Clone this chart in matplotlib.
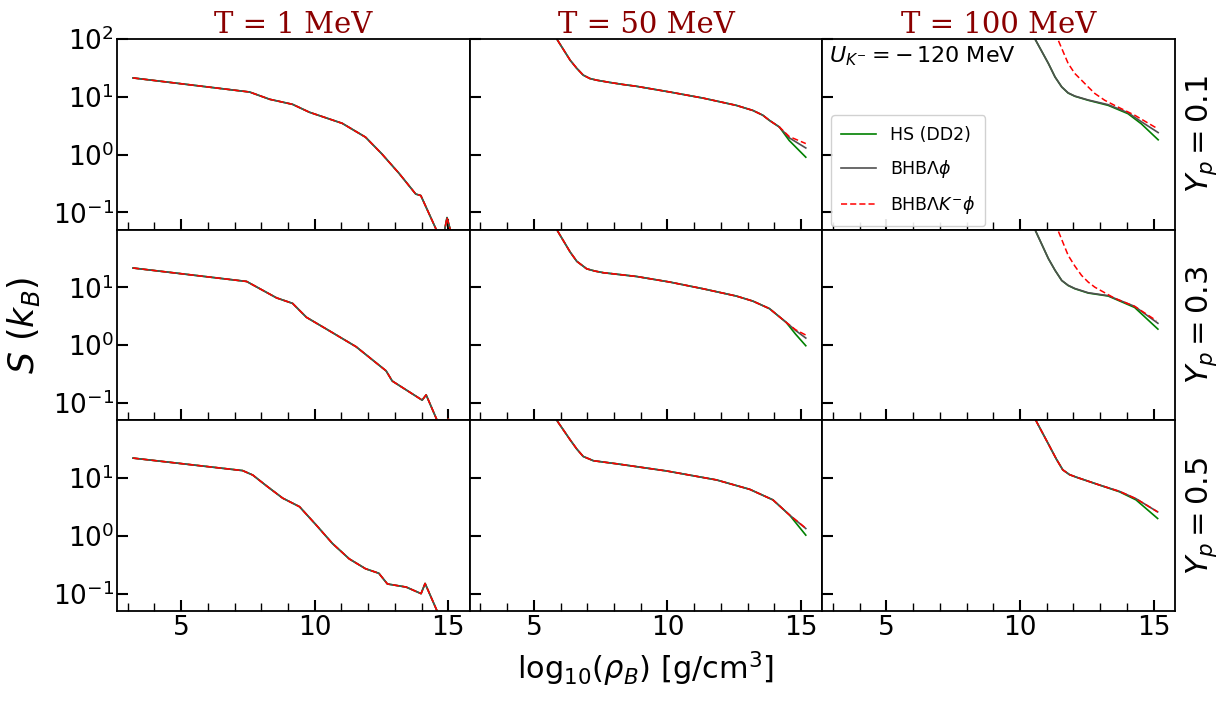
import numpy as np
import matplotlib.pyplot as plt
from matplotlib.ticker import MultipleLocator, NullLocator

# panel labels
temps = ['T = 1 MeV', 'T = 50 MeV', 'T = 100 MeV']
yps = ['0.1', '0.3', '0.5']
labels = ['HS (DD2)', r'BHB$\Lambda\phi$', r'BHB$\Lambda K^{-}\phi$']

# T = 1 MeV : the three models lie on top of each other
x_t1_01 = [3.2, 7.56, 8.31, 9.17, 9.8, 11.03, 11.9, 12.5, 13.16, 13.78, 13.97, 14.55, 14.8, 14.95, 15.1, 15.3]
s_t1_01 = [21.2, 12.1, 9.06, 7.4, 5.4, 3.47, 2.0, 1.04, 0.47, 0.207, 0.195, 0.05, 0.035, 0.081, 0.045, 0.02]
x_t1_03 = [3.2, 7.45, 8.57, 9.17, 9.69, 10.44, 11.55, 12.67, 12.9, 14.02, 14.17, 14.58, 14.85, 15.0, 15.15]
s_t1_03 = [21.7, 12.7, 6.6, 5.3, 3.04, 1.9, 0.94, 0.36, 0.24, 0.112, 0.138, 0.05, 0.035, 0.053, 0.03]
x_t1_05 = [3.2, 7.3, 7.68, 8.2, 8.8, 9.43, 10.06, 10.66, 11.29, 11.9, 12.4, 12.72, 13.42, 13.98, 14.13, 14.58, 15.0]
s_t1_05 = [22.2, 13.5, 11.3, 7.3, 4.5, 3.2, 1.53, 0.74, 0.40, 0.27, 0.225, 0.147, 0.13, 0.10, 0.15, 0.05, 0.02]

# T = 50 MeV
x_t50_01 = [5.7, 5.86, 6.36, 6.61, 6.85, 7.1, 7.35, 7.85, 8.35, 8.84, 10.09, 11.33, 12.58, 13.2, 13.57, 13.82, 14.19, 14.56, 15.18]
s_t50_01_hs = [130, 100, 43, 31, 23.7, 20.7, 19.4, 17.7, 16.3, 15.2, 12.1, 9.5, 7.1, 5.8, 4.8, 3.9, 3.0, 1.75, 0.9]
s_t50_01_bhb = [130, 100, 43, 31, 23.7, 20.7, 19.4, 17.7, 16.3, 15.2, 12.1, 9.5, 7.1, 5.8, 4.8, 3.9, 3.0, 1.95, 1.3]
s_t50_01_k = [130, 100, 43, 31, 23.7, 20.7, 19.4, 17.7, 16.3, 15.2, 12.1, 9.5, 7.1, 5.8, 4.8, 3.9, 3.0, 2.05, 1.55]
x_t50_03 = [5.7, 5.86, 6.36, 6.61, 6.98, 7.29, 7.6, 8.84, 10.09, 11.33, 12.58, 13.2, 13.82, 14.44, 14.8, 15.18]
s_t50_03_hs = [130, 100, 41, 28.3, 21, 19.2, 18, 15.5, 12.4, 9.5, 7.1, 5.8, 4.3, 2.5, 1.55, 0.98]
s_t50_03_bhb = [130, 100, 41, 28.3, 21, 19.2, 18, 15.5, 12.4, 9.5, 7.1, 5.8, 4.3, 2.5, 1.8, 1.33]
s_t50_03_k = [130, 100, 41, 28.3, 21, 19.2, 18, 15.5, 12.4, 9.5, 7.1, 5.8, 4.3, 2.5, 1.85, 1.5]
x_t50_05 = [5.7, 5.86, 6.36, 6.61, 6.85, 7.23, 8.1, 9.97, 11.84, 13.08, 13.95, 14.57, 15.18]
s_t50_05_hs = [130, 100, 46, 31.8, 23.7, 20, 17.7, 13.3, 9.3, 6.4, 4.2, 2.3, 1.03]
s_t50_05_bhb = [130, 100, 46, 31.8, 23.7, 20, 17.7, 13.3, 9.3, 6.4, 4.2, 2.3, 1.34]
s_t50_05_k = [130, 100, 46, 31.8, 23.7, 20, 17.7, 13.3, 9.3, 6.4, 4.2, 2.3, 1.36]

# T = 100 MeV
x_t100_01 = [10.4, 10.56, 11.06, 11.31, 11.56, 11.8, 12.05, 12.55, 13.3, 14.04, 14.54, 15.17]
s_t100_01_hs = [140, 100, 37.8, 22, 14.8, 11.6, 10.2, 8.7, 7.1, 5.1, 3.4, 1.8]
s_t100_01_bhb = [140, 100, 37.8, 22, 14.8, 11.7, 10.3, 8.8, 7.3, 5.3, 3.7, 2.4]
xk_t100_01 = [11.3, 11.41, 11.8, 12.05, 12.3, 12.55, 12.8, 13.17, 13.54, 14.29, 15.04, 15.17]
s_t100_01_k = [130, 100, 37.8, 25.3, 19.4, 14.8, 11.4, 8.7, 7.1, 4.8, 3.0, 2.85]
x_t100_03 = [10.4, 10.56, 11.06, 11.31, 11.56, 11.8, 12.05, 12.55, 13.3, 14.29, 15.16]
s_t100_03_hs = [140, 100, 31.6, 19.8, 13.2, 10.8, 9.5, 8.0, 7.1, 4.5, 1.9]
s_t100_03_bhb = [140, 100, 31.6, 19.8, 13.2, 10.9, 9.6, 8.1, 7.2, 4.7, 2.4]
xk_t100_03 = [11.3, 11.41, 11.8, 12.05, 12.3, 12.55, 12.8, 13.54, 14.29, 15.1]
s_t100_03_k = [130, 100, 36, 23.5, 16.2, 12.4, 10.1, 6.5, 4.7, 2.67]
x_t100_05 = [10.45, 10.59, 11.11, 11.36, 11.6, 11.85, 12.1, 12.97, 13.72, 14.34, 15.15]
s_t100_05_hs = [140, 100, 35.3, 21.3, 13.9, 11.5, 10.4, 7.6, 5.8, 4.2, 2.0]
s_t100_05_bhb = [140, 100, 35.3, 21.3, 13.9, 11.5, 10.4, 7.6, 5.9, 4.4, 2.6]
s_t100_05_k = [140, 100, 35.3, 21.3, 13.9, 11.5, 10.4, 7.6, 5.9, 4.4, 2.6]

# (x_hs, s_hs, x_bhb, s_bhb, x_k, s_k) per panel [row][col]
panels = [
    [(x_t1_01, s_t1_01, x_t1_01, s_t1_01, x_t1_01, s_t1_01),
     (x_t50_01, s_t50_01_hs, x_t50_01, s_t50_01_bhb, x_t50_01, s_t50_01_k),
     (x_t100_01, s_t100_01_hs, x_t100_01, s_t100_01_bhb, xk_t100_01, s_t100_01_k)],
    [(x_t1_03, s_t1_03, x_t1_03, s_t1_03, x_t1_03, s_t1_03),
     (x_t50_03, s_t50_03_hs, x_t50_03, s_t50_03_bhb, x_t50_03, s_t50_03_k),
     (x_t100_03, s_t100_03_hs, x_t100_03, s_t100_03_bhb, xk_t100_03, s_t100_03_k)],
    [(x_t1_05, s_t1_05, x_t1_05, s_t1_05, x_t1_05, s_t1_05),
     (x_t50_05, s_t50_05_hs, x_t50_05, s_t50_05_bhb, x_t50_05, s_t50_05_k),
     (x_t100_05, s_t100_05_hs, x_t100_05, s_t100_05_bhb, x_t100_05, s_t100_05_k)],
]

fig, axes = plt.subplots(3, 3, figsize=(12.18, 7.02), dpi=100, sharex=True)
fig.subplots_adjust(left=0.0961, right=0.9647, top=0.9444, bottom=0.1296, wspace=0, hspace=0)

for i in range(3):
    for j in range(3):
        ax = axes[i, j]
        xh, sh, xb, sb, xk, sk = panels[i][j]
        ax.plot(xh, sh, color='green', lw=1.2, label=labels[0])
        ax.plot(xb, sb, color='#505050', lw=1.2, label=labels[1])
        ax.plot(xk, sk, color='red', lw=1.1, ls='--', dashes=(4, 2), label=labels[2])
        ax.set_yscale('log')
        ax.set_xlim(2.6, 15.8)
        ax.xaxis.set_major_locator(MultipleLocator(5))
        ax.xaxis.set_minor_locator(MultipleLocator(1))
        ax.yaxis.set_minor_locator(NullLocator())
        if i == 0:
            ax.set_yticks([0.1, 1, 10, 100])
        else:
            ax.set_yticks([0.1, 1, 10])
        ax.set_ylim(0.05, 100)
        ax.tick_params(which='major', direction='in', length=8, width=1.5, labelsize=19, pad=3)
        ax.tick_params(which='minor', direction='in', length=6, width=1.0)
        ax.tick_params(axis='y', pad=2)
        if j > 0:
            ax.tick_params(axis='y', labelleft=False)
        for sp in ax.spines.values():
            sp.set_linewidth(1.3)
        if i == 0:
            ax.set_title(temps[j], color='darkred', family='DejaVu Serif', fontsize=21, pad=2)
        if j == 2:
            ax.text(1.025, 0.5, r'$Y_p = %s$' % yps[i], transform=ax.transAxes,
                    rotation=90, va='center', ha='left', fontsize=22)

axes[0, 2].text(0.02, 0.97, r'$U_{K^{-}} = -\,120$ MeV', transform=axes[0, 2].transAxes,
                va='top', ha='left', fontsize=16)
axes[0, 2].legend(loc='upper left', bbox_to_anchor=(0.0, 0.645), fontsize=12.5,
                  handlelength=2.0, labelspacing=0.8, borderpad=0.6, framealpha=0.9)

axes[2, 1].set_xlabel(r'log$_{10}(\rho_B)$ [g/cm$^3$]', fontsize=22, labelpad=6)
axes[1, 0].set_ylabel(r'$S\ (k_B)$', fontsize=25, labelpad=8)

plt.savefig('out.png', dpi=100)
